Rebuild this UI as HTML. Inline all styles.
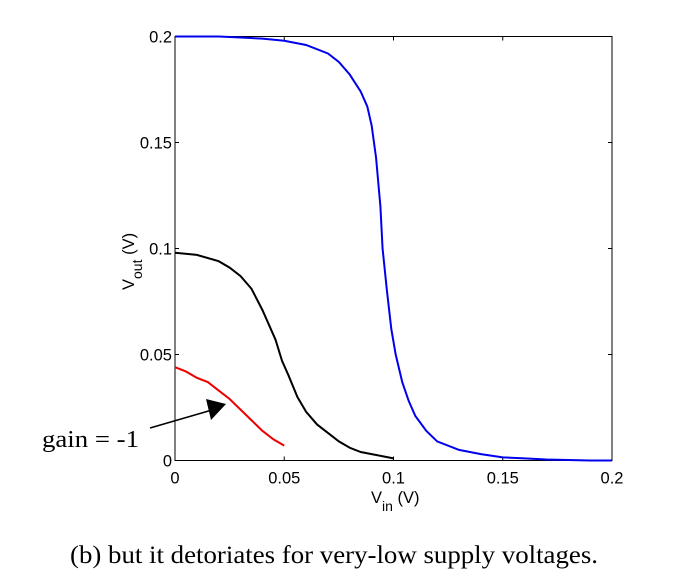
<!DOCTYPE html>
<html><head><meta charset="utf-8"><style>
body{margin:0;background:#fff;width:683px;height:580px;overflow:hidden}
svg text{font-family:"Liberation Sans",Arial,sans-serif}
</style></head><body>
<svg id="chart" width="683" height="580" xmlns="http://www.w3.org/2000/svg">
<g id="plot"></g>
<text x="42" y="447" font-size="24" textLength="97" lengthAdjust="spacingAndGlyphs" fill="#000" style="font-family:'Liberation Serif',serif">gain = -1</text>
<text x="70" y="563" font-size="25" textLength="528" lengthAdjust="spacingAndGlyphs" fill="#000" style="font-family:'Liberation Serif',serif">(b) but it detoriates for very-low supply voltages.</text>
</svg>
<script>
const xTicks=[0,0.05,0.1,0.15,0.2];
const xTickLabels=["0","0.05","0.1","0.15","0.2"];
const yTicks=[0,0.05,0.1,0.15,0.2];
const yTickLabels=["0","0.05","0.1","0.15","0.2"];
const blueX=[0,0.02,0.03,0.04,0.05,0.06,0.07,0.075,0.08,0.085,0.088,0.09,0.092,0.094,0.095,0.097,0.099,0.101,0.104,0.107,0.11,0.115,0.12,0.13,0.14,0.15,0.16,0.17,0.19,0.2];
const blueY=[0.2,0.2,0.1995,0.199,0.198,0.196,0.192,0.188,0.182,0.174,0.167,0.158,0.143,0.12,0.1,0.08,0.062,0.05,0.037,0.028,0.021,0.014,0.009,0.005,0.003,0.0015,0.001,0.0005,0,0];
const blackX=[0,0.01,0.02,0.025,0.03,0.035,0.04,0.043,0.046,0.049,0.052,0.056,0.06,0.065,0.07,0.075,0.08,0.085,0.09,0.095,0.1];
const blackY=[0.098,0.097,0.094,0.091,0.087,0.081,0.071,0.064,0.057,0.047,0.04,0.03,0.023,0.017,0.013,0.009,0.006,0.004,0.003,0.002,0.001];
const redX=[0,0.005,0.01,0.015,0.02,0.025,0.03,0.035,0.04,0.045,0.05];
const redY=[0.044,0.042,0.039,0.037,0.033,0.029,0.024,0.019,0.014,0.01,0.007];
const X0=175,X1=612,Y0=460.5,Y1=36.5;
const sx=v=>X0+(v-0)/(0.2)*(X1-X0);
const sy=v=>Y0-(v-0)/(0.2)*(Y0-Y1);
const NS="http://www.w3.org/2000/svg";
const g=document.getElementById('plot');
function mk(t,a){const e=document.createElementNS(NS,t);for(const k in a)e.setAttribute(k,a[k]);g.appendChild(e);return e;}
const frame=mk('rect',{x:X0,y:Y1,width:X1-X0,height:Y0-Y1,fill:'none',stroke:'#000','stroke-width':1});


xTicks.forEach((v,i)=>{
  const t=mk('path',{d:`M${sx(v)},${Y0}v-4M${sx(v)},${Y1}v4`,stroke:'#000'});
  
  
  const l=mk('text',{x:sx(v),y:Y0+23,'font-size':16.5,'text-anchor':'middle'});
  l.textContent=xTickLabels[i];
  
  
});
yTicks.forEach((v,i)=>{
  const t=mk('path',{d:`M${X0},${sy(v)}h4M${X1},${sy(v)}h-4`,stroke:'#000'});
  
  
  const l=mk('text',{x:X0-3,y:sy(v)+6,'font-size':16.5,'text-anchor':'end'});
  l.textContent=yTickLabels[i];
  
  
});
function line(xs,ys,c,name){
  const p=mk('polyline',{points:xs.map((x,i)=>sx(x)+','+sy(ys[i])).join(' '),fill:'none',stroke:c,'stroke-width':2});
  
  
}
line(blueX,blueY,'#0000ee','series-blue');
line(blackX,blackY,'#000','series-black');
line(redX,redY,'#ee0000','series-red');
const xl=mk('text',{x:371,y:503,'font-size':16.5});
xl.innerHTML='V<tspan font-size="14" dy="8">in</tspan><tspan dy="-8"> (V)</tspan>';


const yl=mk('text',{x:0,y:0,'font-size':16.5,transform:'translate(134,290) rotate(-90)'});
yl.innerHTML='V<tspan font-size="14" dy="8">out</tspan><tspan dy="-8"> (V)</tspan>';


const ar=mk('line',{x1:150,y1:428,x2:212,y2:410,stroke:'#000','stroke-width':1.5});


const ah=mk('polygon',{points:'226,404 206,399 211,420',fill:'#000'});


</script>
</body></html>
